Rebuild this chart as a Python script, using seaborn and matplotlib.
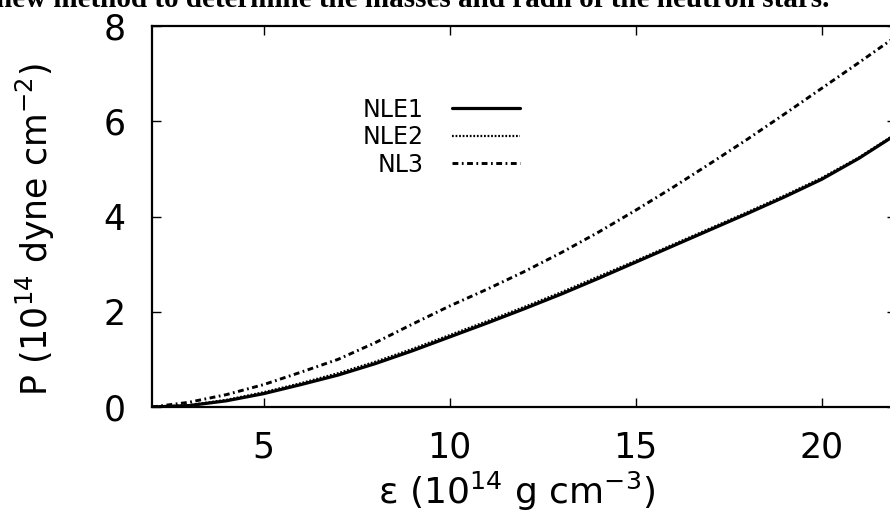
import matplotlib
matplotlib.use("Agg")
import matplotlib.pyplot as plt
import seaborn as sns
import pandas as pd

# Energy density (10^14 g cm^-3) and pressure (10^14 dyne cm^-2) for each EoS
eps = [2, 3, 4, 5, 6, 7, 8, 9, 10, 11, 12, 13, 14, 15, 16, 17, 18, 19, 20, 21, 22]
p_nle1 = [0.00, 0.03, 0.13, 0.28, 0.47, 0.67, 0.91, 1.18, 1.47, 1.76, 2.06,
          2.37, 2.70, 3.04, 3.38, 3.72, 4.06, 4.41, 4.78, 5.22, 5.72]
p_nle2 = [0.00, 0.04, 0.15, 0.31, 0.50, 0.71, 0.95, 1.22, 1.51, 1.80, 2.10,
          2.41, 2.74, 3.07, 3.41, 3.75, 4.09, 4.44, 4.81, 5.24, 5.74]
p_nl3 = [0.00, 0.10, 0.26, 0.47, 0.73, 1.00, 1.35, 1.74, 2.12, 2.47, 2.84,
         3.24, 3.67, 4.13, 4.61, 5.11, 5.62, 6.15, 6.69, 7.23, 7.78]

models = ["NLE1", "NLE2", "NL3"]
x_ticks = [5, 10, 15, 20]
y_ticks = [0, 2, 4, 6, 8]

caption = "new method to determine the masses and radii of the neutron stars."

sns.set_style("ticks")
plt.rcParams["font.family"] = ["DejaVu Sans"]
plt.rcParams["mathtext.default"] = "regular"
for key in ["text.color", "axes.labelcolor", "xtick.color", "ytick.color",
            "axes.edgecolor"]:
    plt.rcParams[key] = "black"

df = pd.DataFrame({
    "eps": eps * 3,
    "P": p_nle1 + p_nle2 + p_nl3,
    "model": [m for m in models for _ in eps],
})

fig = plt.figure(figsize=(8.9, 5.22), dpi=100)
W, H = 890, 522
left, right, bottom, top = 152, 896, 407, 26
ax = fig.add_axes([left / W, 1 - bottom / H, (right - left) / W, (bottom - top) / H])

styles = {
    "NLE1": dict(lw=2.3, ls="-"),
    "NL3": dict(lw=2.1, ls=(0, (2.0, 1.2, 0.6, 1.2))),
    "NLE2": dict(lw=1.6, ls=(0, (0.8, 0.8))),
}
for m in ["NLE1", "NL3", "NLE2"]:
    sub = df[df["model"] == m]
    sns.lineplot(data=sub, x="eps", y="P", ax=ax, color="black", label=m,
                 **styles[m])

ax.set_xlim(2, 22)
ax.set_ylim(0, 8)
ax.set_xticks(x_ticks)
ax.set_yticks(y_ticks)
ax.tick_params(direction="in", length=6.5, width=1.0, top=True, right=True,
               labelsize=25)
ax.tick_params(axis="x", pad=17)
ax.tick_params(axis="y", pad=19)
for s in ax.spines.values():
    s.set_linewidth(1.6)

ax.set_xlabel(r"ε (10$^{14}$ g cm$^{-3}$)", fontsize=26)
ax.set_ylabel(r"P (10$^{14}$ dyne cm$^{-2}$)", fontsize=25)
ax.xaxis.set_label_coords(0.49, -0.165)
ax.xaxis.label.set_va("top")
ax.yaxis.set_label_coords(-0.128, 0.465)

handles, labels = ax.get_legend_handles_labels()
order = [labels.index(m) for m in models]
ax.legend([handles[i] for i in order], [labels[i] for i in order],
          loc="upper right", bbox_to_anchor=(0.495, 0.812), frameon=False,
          markerfirst=False, fontsize=17, handlelength=2.9, handletextpad=1.2,
          labelspacing=0.15, borderpad=0, borderaxespad=0)

fig.text(-0.004, 1 - 7 / H, caption, fontfamily="Liberation Serif",
         fontweight="bold", fontsize=21, va="baseline", ha="left")

fig.savefig("out.png", dpi=100)
